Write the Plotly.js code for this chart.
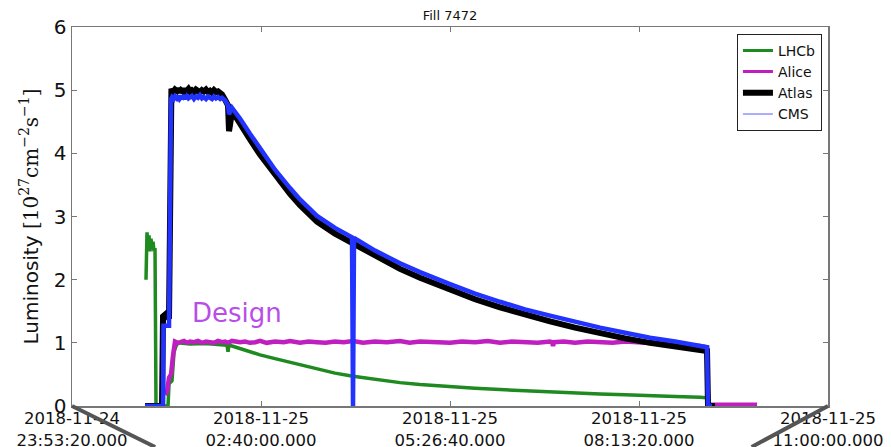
<!DOCTYPE html>
<html><head><meta charset="utf-8">
<script src="https://cdn.plot.ly/plotly-3.0.1.min.js"></script>
<style>html,body{margin:0;padding:0;background:#fff}</style>
</head><body><div id="chart" style="width:891px;height:447px"></div>
<script>
const DAY = '2018-11-25 ';
const seriesNames = ['LHCb', 'Alice', 'Atlas', 'CMS'];

const lhcbTime = ['00:58:35','00:59:28','01:00:21','01:01:14','01:02:07','01:03:00','01:03:53','01:04:46','01:05:39','01:06:32','01:07:25','01:18:00','01:18:53','01:21:31','01:23:18','01:25:04','01:26:48','01:37:23','01:50:38','02:03:52','02:10:02','02:10:55','02:11:48','02:14:27','02:21:29','02:30:18','02:39:07','02:52:21','03:05:35','03:14:24','03:29:23','03:45:15','04:01:08','04:20:32','04:42:35','05:00:13','05:26:41','05:48:44','06:10:46','06:32:49','06:54:52','07:16:55','07:38:58','08:01:00','08:23:03','08:45:06','09:07:09','09:13:19','09:14:12','09:46:49'];
const lhcbLum = [2.0,2.75,2.55,2.7,2.45,2.65,2.5,2.6,2.45,2.5,0,0,0.35,0.4,0.85,0.95,1.0,0.98,0.99,0.97,0.96,0.86,0.97,0.95,0.91,0.86,0.81,0.75,0.69,0.65,0.58,0.52,0.47,0.42,0.37,0.34,0.30,0.28,0.26,0.24,0.22,0.20,0.19,0.18,0.16,0.15,0.14,0.13,0,0];

const aliceTime = ['01:15:22','01:17:07','01:18:53','01:20:39','01:22:24','01:24:10','01:26:48','01:29:27','01:32:06','01:34:45','01:37:23','01:40:55','01:44:27','01:47:58','01:51:30','01:55:02','01:58:33','02:02:05','02:05:38','02:08:17','02:10:55','02:14:27','02:21:29','02:26:00','02:30:18','02:35:00','02:39:07','02:45:00','02:52:21','03:00:00','03:05:35','03:14:24','03:22:00','03:29:23','03:37:00','03:45:15','03:53:00','04:01:08','04:10:00','04:20:32','04:31:00','04:42:35','04:51:00','05:00:13','05:13:00','05:26:41','05:37:00','05:48:44','06:00:00','06:10:46','06:21:00','06:32:49','06:44:00','06:54:52','06:56:39','06:57:32','06:58:25','07:07:00','07:16:55','07:28:00','07:38:58','07:50:00','08:01:00','08:12:00','08:23:03','08:34:00','08:45:06','08:56:00','09:07:09','09:13:19','09:14:12','09:57:25'];
const aliceLum = [0.18,0.22,0.45,0.5,0.8,1.02,1.0,1.01,1.03,1.0,1.02,1.01,1.03,1.0,1.02,1.01,1.0,1.03,1.01,1.02,1.0,1.03,1.01,1.02,1.0,1.01,1.03,1.0,1.02,1.01,1.03,1.0,1.02,1.01,1.0,1.02,1.01,1.03,1.0,1.02,1.01,1.03,1.0,1.02,1.01,1.0,1.02,1.01,1.03,1.0,1.02,1.01,1.0,1.02,1.01,0.95,1.01,1.02,1.0,1.02,1.01,1.0,1.02,1.01,1.0,0.99,0.98,0.97,0.95,0.93,0.02,0.02];

const atlasTime = ['00:57:42','01:12:43','01:13:36','01:16:14','01:18:53','01:19:46','01:21:00','01:22:30','01:24:10','01:25:40','01:26:48','01:28:10','01:29:27','01:31:00','01:32:06','01:33:30','01:34:45','01:36:00','01:37:23','01:39:00','01:40:55','01:42:40','01:44:27','01:46:10','01:47:58','01:49:40','01:51:30','01:53:20','01:55:02','01:56:50','01:58:33','02:00:20','02:02:05','02:04:00','02:05:38','02:08:17','02:10:55','02:11:48','02:12:41','02:14:27','02:17:00','02:21:29','02:30:18','02:39:07','02:52:21','03:05:35','03:14:24','03:29:23','03:45:15','04:01:08','04:20:32','04:42:35','05:00:13','05:26:41','05:48:44','06:10:46','06:32:49','06:54:52','07:16:55','07:38:58','08:01:00','08:23:03','08:45:06','09:07:09','09:13:19','09:14:12','09:20:23'];
const atlasLum = [0,0,1.42,1.46,1.38,4.98,5.02,4.97,5.01,4.99,5.03,4.97,5.0,4.98,5.02,4.97,4.99,5.02,4.98,5.0,4.97,5.01,4.99,4.96,5.0,4.98,5.01,4.97,4.99,4.96,5.0,4.97,4.98,4.95,4.93,4.85,4.76,4.35,4.45,4.66,4.6,4.46,4.22,3.98,3.65,3.36,3.18,2.92,2.73,2.57,2.37,2.17,2.03,1.84,1.69,1.56,1.44,1.34,1.24,1.15,1.07,1.0,0.94,0.89,0.87,0,0];

const cmsTime = ['00:57:42','01:13:36','01:14:00','01:18:53','01:20:39','01:21:31','01:23:00','01:24:10','01:25:40','01:26:48','01:28:10','01:29:27','01:31:00','01:32:06','01:33:30','01:34:45','01:36:00','01:37:23','01:39:00','01:40:55','01:42:40','01:44:27','01:46:10','01:47:58','01:49:40','01:51:30','01:53:20','01:55:02','01:56:50','01:58:33','02:00:20','02:02:05','02:04:00','02:05:38','02:08:17','02:10:55','02:11:48','02:14:27','02:17:00','02:21:29','02:30:18','02:39:07','02:52:21','03:05:35','03:14:24','03:29:23','03:45:15','04:00:15','04:01:08','04:02:01','04:20:32','04:42:35','05:00:13','05:26:41','05:48:44','06:10:46','06:32:49','06:54:52','07:16:55','07:38:58','08:01:00','08:23:03','08:45:06','09:07:09','09:13:19','09:14:12','09:17:45'];
const cmsLum = [0,0,1.27,1.27,4.86,4.89,4.86,4.9,4.87,4.91,4.86,4.89,4.88,4.92,4.86,4.9,4.87,4.89,4.91,4.86,4.9,4.88,4.92,4.87,4.89,4.86,4.9,4.88,4.86,4.9,4.87,4.89,4.86,4.88,4.84,4.76,4.62,4.72,4.66,4.55,4.31,4.07,3.74,3.45,3.27,3.01,2.82,2.67,0,2.66,2.46,2.26,2.12,1.93,1.78,1.65,1.53,1.43,1.33,1.24,1.16,1.08,1.02,0.96,0.93,0,0];

const tickVals = ['2018-11-24 23:53:20','2018-11-25 02:40:00','2018-11-25 05:26:40','2018-11-25 08:13:20','2018-11-25 11:00:00'];
const tickText = ['2018-11-24<br>23:53:20.000','2018-11-25<br>02:40:00.000','2018-11-25<br>05:26:40.000','2018-11-25<br>08:13:20.000','2018-11-25<br>11:00:00.000'];
const yTicks = [0,1,2,3,4,5,6];

const colors = {LHCb:'#1f8a1f', Alice:'#c01fc0', Atlas:'#000000', CMS:'#2233ff'};
const widths = {LHCb:3.5, Alice:4.5, Atlas:6, CMS:4.5};
const legendWidths = {LHCb:3, Alice:3, Atlas:6, CMS:1};
const legendColors = {LHCb:'#1f8a1f', Alice:'#c01fc0', Atlas:'#000000', CMS:'#5a5aff'};

const dataSets = {
  LHCb: [lhcbTime, lhcbLum],
  Alice: [aliceTime, aliceLum],
  Atlas: [atlasTime, atlasLum],
  CMS: [cmsTime, cmsLum]
};

const traces = [];
seriesNames.forEach(n => {
  traces.push({
    x: dataSets[n][0].map(t => DAY + t), y: dataSets[n][1],
    type: 'scatter', mode: 'lines', name: n, showlegend: false,
    line: {color: colors[n], width: widths[n]}, hoverinfo: 'skip'
  });
});
seriesNames.forEach(n => {
  traces.push({
    x: [null], y: [null], type: 'scatter', mode: 'lines', name: n,
    line: {color: legendColors[n], width: legendWidths[n]}
  });
});

const layout = {
  width: 891, height: 447,
  margin: {l:72, r:63, t:27, b:41},
  paper_bgcolor: '#fff', plot_bgcolor: '#fff',
  font: {family: 'DejaVu Sans', color: '#111'},
  title: {text: 'Fill 7472', font: {size: 13, family: 'DejaVu Sans'}, x: 0.5, xref: 'paper', y: 0.966, yref: 'container', yanchor: 'middle'},
  xaxis: {
    type: 'date', range: ['2018-11-24 23:53:20', '2018-11-25 11:00:00'],
    tickmode: 'array', tickvals: tickVals, ticktext: tickText,
    ticks: 'inside', ticklen: 5, tickcolor: '#777', mirror: 'ticks',
    showline: true, linecolor: '#777', linewidth: 1.5,
    showgrid: false, zeroline: false, ticklabelstandoff: -3,
    tickfont: {size: 16.5, family: 'DejaVu Sans', color: '#111'}
  },
  yaxis: {
    range: [0, 6], tickmode: 'array', tickvals: yTicks,
    ticks: 'inside', ticklen: 5, tickcolor: '#777', mirror: 'ticks',
    showline: true, linecolor: '#777', linewidth: 1.5,
    showgrid: false, zeroline: false,
    tickfont: {size: 20, family: 'DejaVu Sans', color: '#111'},
    title: {text: 'Luminosity <span style="font-family:DejaVu Serif">[10<sup>27</sup>cm<sup>−2</sup>s<sup>−1</sup>]</span>', font: {size: 20, family: 'DejaVu Sans'}, standoff: 10}
  },
  legend: {
    x: 0.992, y: 0.982, xanchor: 'right', yanchor: 'top',
    bgcolor: '#fff', bordercolor: '#222', borderwidth: 1,
    font: {size: 14, family: 'DejaVu Sans'}, itemwidth: 30, tracegroupgap: 0
  },
  annotations: [{
    x: DAY + '01:37:23', y: 1.47, xref: 'x', yref: 'y', text: 'Design', showarrow: false,
    xanchor: 'left', yanchor: 'middle', font: {size: 26, color: '#b94de8', family: 'DejaVu Sans'}
  }],
  shapes: [
    {type: 'line', xref: 'paper', yref: 'paper', x0: 0, y0: 0, x1: 0.11, y1: -0.108, line: {color: '#555', width: 4}},
    {type: 'line', xref: 'paper', yref: 'paper', x0: 1, y0: 0, x1: 0.899, y1: -0.108, line: {color: '#555', width: 4}}
  ]
};

Plotly.newPlot('chart', traces, layout, {displayModeBar: false, staticPlot: true});
</script>
</body></html>
